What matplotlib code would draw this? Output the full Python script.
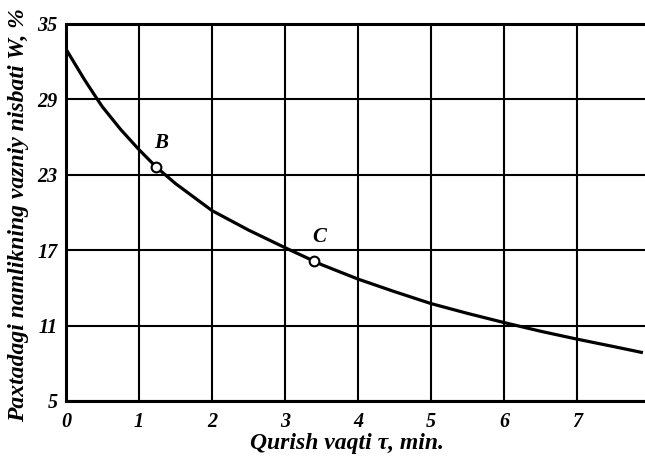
import matplotlib.pyplot as plt
import numpy as np

# qurish egri chizig'i (rasmdan o'qilgan qiymatlar)
tau = [0, 0.25, 0.43, 0.5, 0.75, 1.0, 1.23, 1.5, 2.0, 2.5, 3.0, 3.39, 3.5,
       4.0, 4.5, 5.0, 5.5, 6.0, 6.5, 7.0, 7.5, 7.88]
w = [33.0, 30.6, 29.0, 28.4, 26.6, 25.0, 23.65, 22.3, 20.15, 18.6, 17.2, 16.15, 15.85,
     14.7, 13.7, 12.75, 11.97, 11.24, 10.55, 9.92, 9.33, 8.87]

# B va C nuqtalar
pt_names = ["B", "C"]
pt_tau = [1.23, 3.39]
pt_w = [23.65, 16.15]

xticks = [0, 1, 2, 3, 4, 5, 6, 7]
yticks = [5, 11, 17, 23, 29, 35]

plt.rcParams['font.family'] = ['Liberation Serif', 'DejaVu Serif']

fig = plt.figure(figsize=(6.45, 4.58), dpi=100)
ax = fig.add_axes([0.1023, 0.1245, 0.8977, 0.8231])

ax.plot(tau, w, color='black', linewidth=2.3, zorder=3)
ax.plot(pt_tau, pt_w, 'o', markersize=7, markerfacecolor='white',
        markeredgecolor='black', markeredgewidth=1.5, zorder=4)
for name, tx, wy in zip(pt_names, pt_tau, pt_w):
    ax.annotate(name, (tx, wy), xytext=(4, 10), textcoords='offset points',
                ha='center', va='bottom', fontsize=15,
                fontweight='bold', fontstyle='italic')

ax.set_xlim(0, 7.93)
ax.set_ylim(5, 35)
ax.set_xticks(xticks)
ax.set_yticks(yticks)
ax.grid(True, color='black', linewidth=1.5)
ax.tick_params(length=0, labelsize=14.5)
ax.tick_params(axis='x', pad=8)
ax.tick_params(axis='y', pad=6)
for lab in ax.get_xticklabels() + ax.get_yticklabels():
    lab.set_fontweight('bold')
    lab.set_fontstyle('italic')

ax.spines['right'].set_visible(False)
for s in ['left', 'bottom', 'top']:
    ax.spines[s].set_linewidth(2.2)

fig.text(0.538, 0.02, "Qurish vaqti \u03c4, min.", ha='center', va='baseline',
         fontsize=17, fontweight='bold', fontstyle='italic')
fig.text(0.028, 0.53, "Paxtadagi namlikning vazniy nisbati W, %", rotation=90,
         ha='center', va='center', fontsize=17, fontweight='bold', fontstyle='italic')

fig.savefig('out.png', dpi=100)
